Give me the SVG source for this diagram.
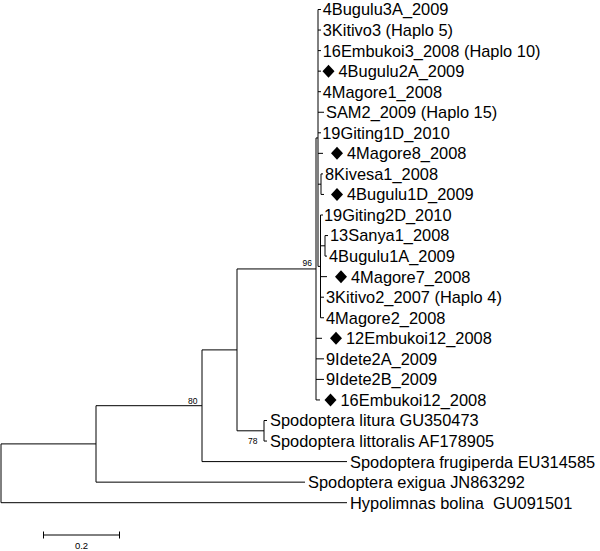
<svg xmlns="http://www.w3.org/2000/svg" xmlns:xlink="http://www.w3.org/1999/xlink" width="600" height="551" viewBox="0 0 600 551">
<style>
.t{font-family:"Liberation Sans",Arial,sans-serif;font-size:16.4px;fill:#000;white-space:pre}
.b{font-family:"Liberation Sans",Arial,sans-serif;font-size:8.5px;fill:#000;text-anchor:end}
.s{font-family:"Liberation Sans",Arial,sans-serif;font-size:9.5px;fill:#000;text-anchor:middle}
.e{fill:none;stroke:#000;stroke-width:1}
</style>
<defs>
<path id="dia" d="M0,-6.5 L6,0 L0,6.5 L-6,0 Z" fill="#000"/>
</defs>
<rect width="600" height="551" fill="#fff"/>
<g id="connectors" class="e">
<path d="M1,443.9 V502.7 M1,443.9 H96 M1,502.7 H347"/>
<path d="M96,405.7 V482.15 M96,405.7 H202 M96,482.15 H305"/>
<path d="M202,349.9 V461.6 M202,349.9 H237 M202,461.6 H347"/>
<path d="M237,268.95 V430.8 M237,268.95 H316 M237,430.8 H264"/>
<path d="M264,420.5 V441.05 M264,420.5 H267 M264,441.05 H267"/>
<path d="M316,137.95 V399.95 M316,137.95 H318 M316,338.3 H322 M316,358.85 H324 M316,379.4 H324 M316,399.95 H320"/>
<path d="M318,9.5 V266.4 M318,9.5 H321 M318,30.05 H321 M318,50.6 H321 M318,71.15 H321 M318,91.7 H321 M318,112.25 H324 M318,132.8 H321 M318,153.35 H323 M318,184.2 H321 M318,266.4 H320.5"/>
<path d="M321,173.9 V194.45 M321,173.9 H323 M321,194.45 H324"/>
<path d="M320.5,215 V317.75 M320.5,215 H323 M320.5,245.8 H325 M320.5,276.65 H327 M320.5,297.2 H324 M320.5,317.75 H324"/>
<path d="M325,235.55 V256.1 M325,235.55 H328 M325,256.1 H327"/>
</g>
<g id="bootstrap">
<text class="b" x="312" y="265.5">96</text>
<text class="b" x="197.5" y="403.5">80</text>
<text class="b" x="257.5" y="444">78</text>
</g>
<g id="n-4Bugulu3A"><text class="t" x="322.7" y="15.4">4Bugulu3A_2009</text></g>
<g id="n-3Kitivo3"><text class="t" x="322.7" y="35.95">3Kitivo3 (Haplo 5)</text></g>
<g id="n-16Embukoi3"><text class="t" x="322.7" y="56.5">16Embukoi3_2008 (Haplo 10)</text></g>
<g id="n-4Bugulu2A"><use xlink:href="#dia" x="328.5" y="71.15"/><text class="t" x="338.5" y="77.05">4Bugulu2A_2009</text></g>
<g id="n-4Magore1"><text class="t" x="322.7" y="97.6">4Magore1_2008</text></g>
<g id="n-SAM2"><text class="t" x="326" y="118.15">SAM2_2009 (Haplo 15)</text></g>
<g id="n-19Giting1D"><text class="t" x="322.2" y="138.7">19Giting1D_2010</text></g>
<g id="n-4Magore8"><use xlink:href="#dia" x="337" y="153.35"/><text class="t" x="347" y="159.25">4Magore8_2008</text></g>
<g id="n-8Kivesa1"><text class="t" x="325" y="179.8">8Kivesa1_2008</text></g>
<g id="n-4Bugulu1D"><use xlink:href="#dia" x="337" y="194.45"/><text class="t" x="347" y="200.35">4Bugulu1D_2009</text></g>
<g id="n-19Giting2D"><text class="t" x="324" y="220.9">19Giting2D_2010</text></g>
<g id="n-13Sanya1"><text class="t" x="330" y="241.45">13Sanya1_2008</text></g>
<g id="n-4Bugulu1A"><text class="t" x="329" y="262">4Bugulu1A_2009</text></g>
<g id="n-4Magore7"><use xlink:href="#dia" x="341" y="276.65"/><text class="t" x="351" y="282.55">4Magore7_2008</text></g>
<g id="n-3Kitivo2"><text class="t" x="326" y="303.1">3Kitivo2_2007 (Haplo 4)</text></g>
<g id="n-4Magore2"><text class="t" x="326" y="323.65">4Magore2_2008</text></g>
<g id="n-12Embukoi12"><use xlink:href="#dia" x="336" y="338.3"/><text class="t" x="346" y="344.2">12Embukoi12_2008</text></g>
<g id="n-9Idete2A"><text class="t" x="326" y="364.75">9Idete2A_2009</text></g>
<g id="n-9Idete2B"><text class="t" x="326" y="385.3">9Idete2B_2009</text></g>
<g id="n-16Embukoi12"><use xlink:href="#dia" x="330.5" y="399.95"/><text class="t" x="340.5" y="405.85">16Embukoi12_2008</text></g>
<g id="n-litura"><text class="t" x="270" y="426.4">Spodoptera litura GU350473</text></g>
<g id="n-littoralis"><text class="t" x="270" y="446.95">Spodoptera littoralis AF178905</text></g>
<g id="n-frugiperda"><text class="t" x="350" y="467.5">Spodoptera frugiperda EU314585</text></g>
<g id="n-exigua"><text class="t" x="308" y="488.05">Spodoptera exigua JN863292</text></g>
<g id="n-hypolimnas"><text class="t" x="350" y="508.6">Hypolimnas bolina  GU091501</text></g>
<g id="scalebar">
<path class="e" d="M43.5,535 H119.5 M43.5,531.5 V538.5 M119.5,531.5 V538.5"/>
<text class="s" x="81.5" y="549">0.2</text>
</g>
</svg>
